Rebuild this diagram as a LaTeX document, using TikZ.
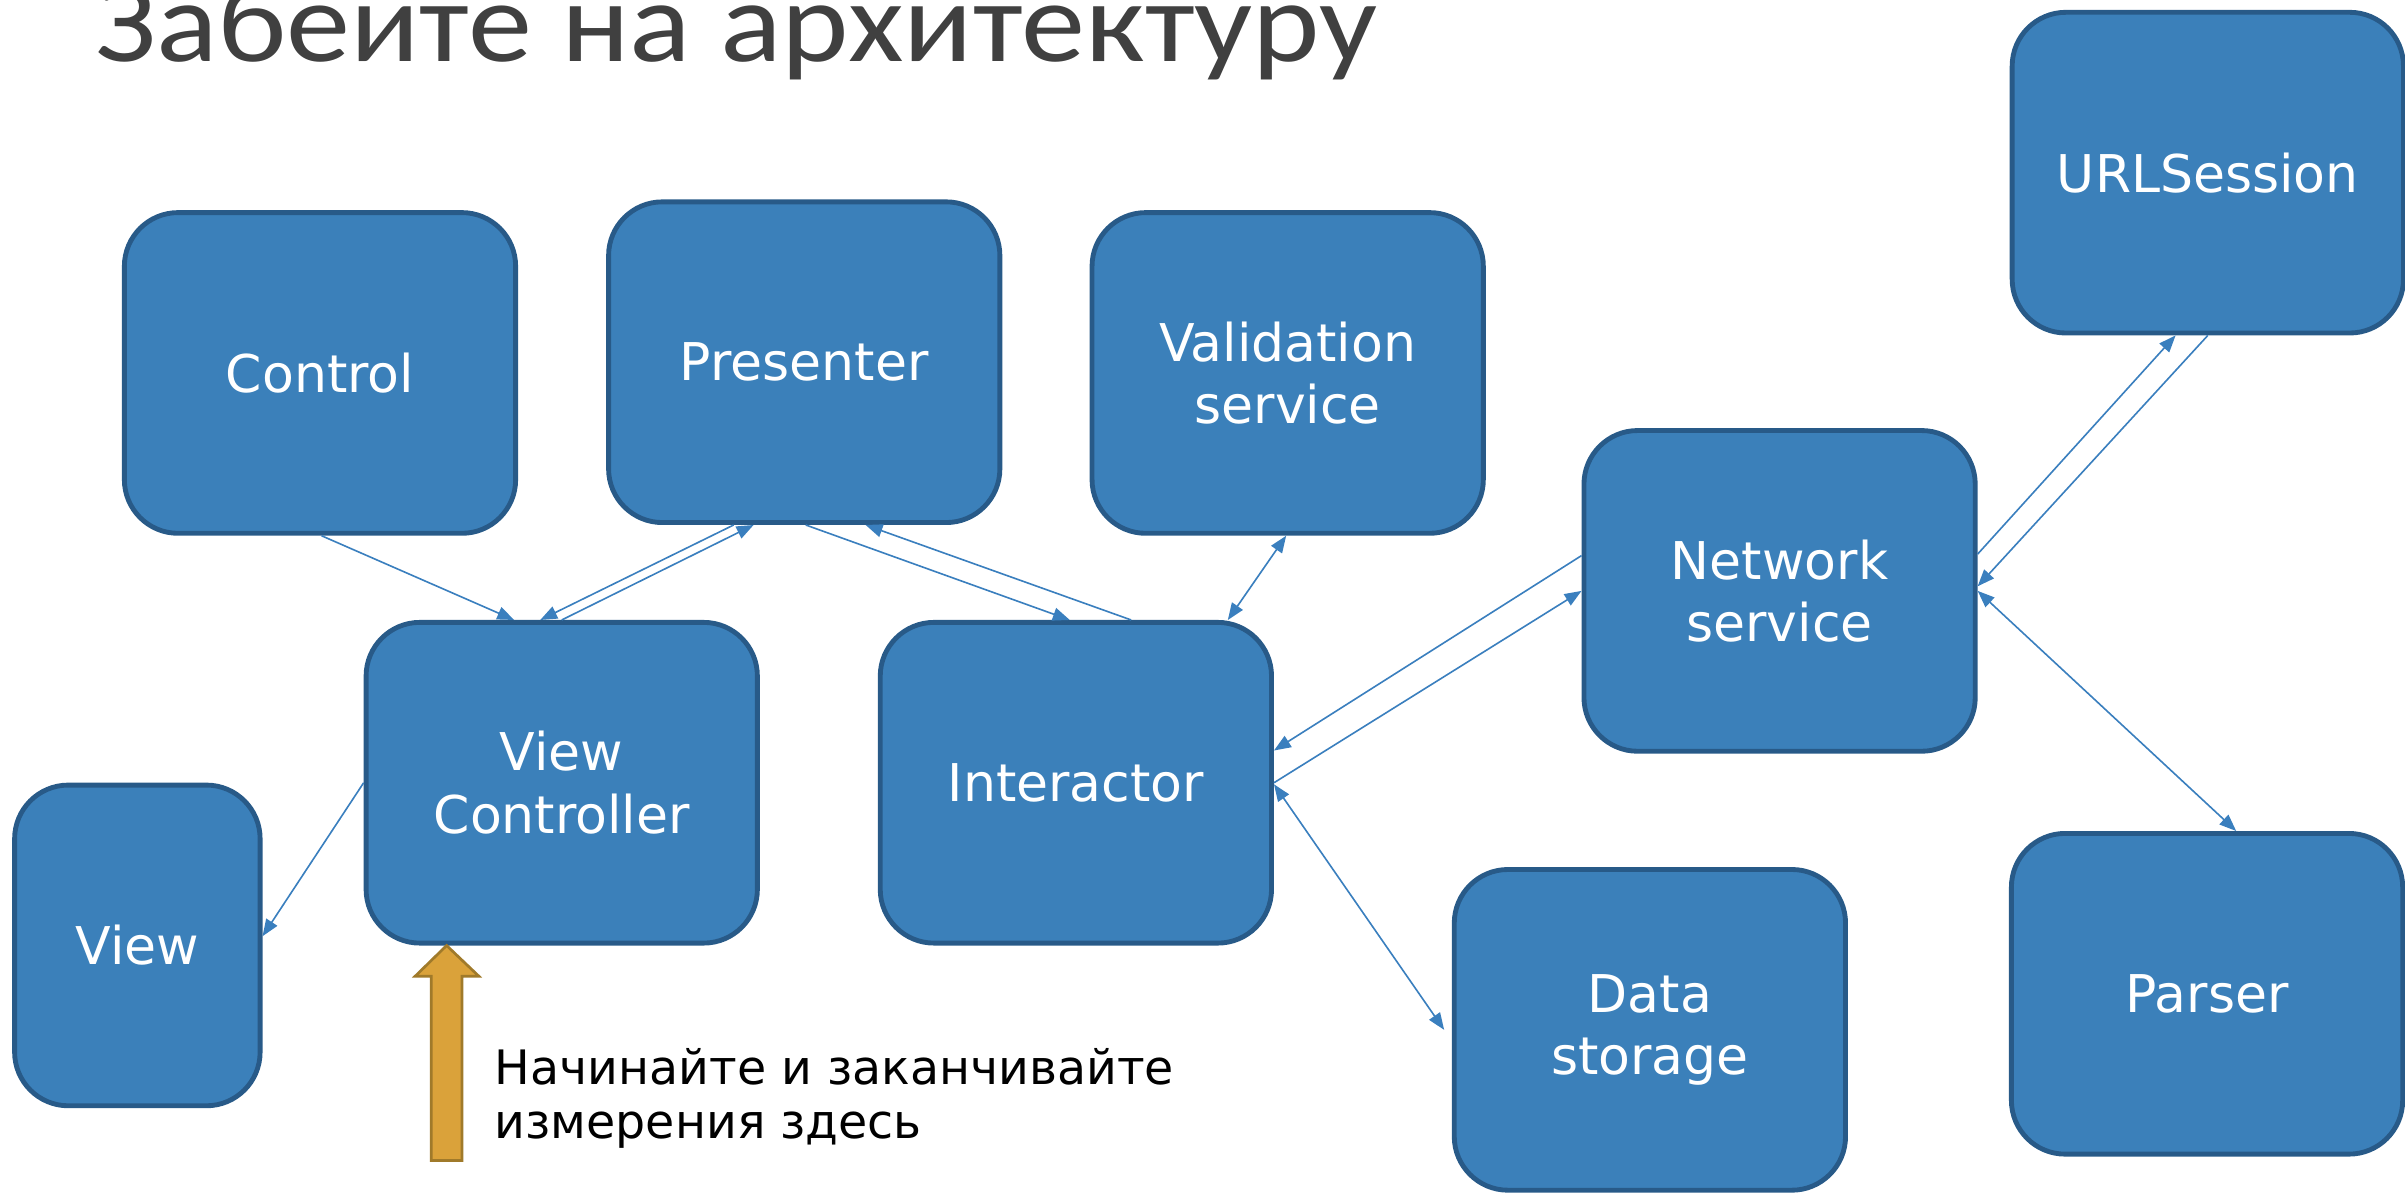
\documentclass[tikz,border=0pt]{standalone}
\usepackage{fontspec}
\setmainfont{DejaVu Sans}
\newfontfamily\titlefont[FakeStretch=1.12]{Carlito}
\usepackage{tikz}
\usetikzlibrary{calc, arrows.meta}

\definecolor{boxfill}{RGB}{59,128,186}
\definecolor{boxline}{RGB}{40,90,136}
\definecolor{linkblue}{RGB}{58,127,190}
\definecolor{pointerfill}{RGB}{218,162,58}
\definecolor{pointerline}{RGB}{160,122,42}
\definecolor{titlegray}{RGB}{64,64,64}

\begin{document}
\begin{tikzpicture}[x=0.02cm, y=-0.02cm,
        block/.style={draw=boxline, fill=boxfill, line width=1.8pt, rounded corners=0.7cm,
            minimum width=5.1cm, minimum height=4.18cm, text=white, align=center,
            font=\fontsize{19.3}{23.2}\selectfont},
        link/.style={linkblue, line width=0.6pt, >={Triangle[length=0.22cm, width=0.17cm]}},
        pointer/.style={draw=pointerline, fill=pointerfill, line width=1pt, line join=miter}]
        \useasboundingbox (0,0) rectangle (1567,777.3);
        \clip (0,0) rectangle (1567,777.3);

        \node[anchor=base west, inner sep=0, text=titlegray, font=\titlefont\fontsize{42.5}{50}\selectfont] (title) at (62,40) {Забейте на архитектуру};

        \node[block] (ctl) at (208.5,243) {Control};
        \node[block] (prs) at (524,236) {Presenter};
        \node[block] (val) at (839,243) {Validation\\service};
        \node[block] (url) at (1438.5,112.5) {URLSession};
        \node[block] (net) at (1159.5,385) {Network\\service};
        \node[block] (vc) at (366,510) {View\\Controller};
        \node[block] (itr) at (701,510) {Interactor};
        \node[block, minimum width=3.2cm] (view) at (89.5,616) {View};
        \node[block] (dat) at (1075,671) {Data\\storage};
        \node[block] (par) at (1438,647.5) {Parser};

        \draw[link, ->] ($(ctl.south)+(1,0)$) -- ($(vc.north)+(-31,0)$);
        \draw[link, ->] ($(prs.south)+(-46,0)$) -- ($(vc.north)+(-14,0)$);
        \draw[link, ->] (vc.north) -- ($(prs.south)+(-33,0)$);
        \draw[link, ->] ($(prs.south)+(1,0)$) -- ($(itr.north)+(-4,0)$);
        \draw[link, ->] ($(itr.north)+(36,0)$) -- ($(prs.south)+(40,0)$);
        \draw[link, <->] ($(val.south)+(-1,0)$) -- ($(itr.north)+(99,0)$);
        \draw[link, ->] ($(net.west)+(0,-23)$) -- ($(itr.east)+(0,-21)$);
        \draw[link, ->] (itr.east) -- (net.west);
        \draw[link, <->] ($(itr.east)+(0,1)$) -- ($(dat.west)+(-5,0)$);
        \draw[link, ->] ($(net.east)+(0,-24)$) -- ($(url.south)+(-21,0)$);
        \draw[link, ->] (url.south) -- ($(net.east)+(0,-3)$);
        \draw[link, <->] (net.east) -- ($(par.north)+(19,0)$);
        \draw[link, ->] (vc.west) -- ($(view.east)+(0,-6)$);

        \coordinate (tip) at ($(vc.south)+(-75,0)$);
        \draw[pointer] (tip) -- ++(21,20) -- ++(-11,0) -- ++(0,120) -- ++(-20,0) -- ++(0,-120) -- ++(-10.5,0) -- cycle;
        \node[anchor=north west, inner sep=0, align=left, font=\fontsize{17.6}{20.1}\selectfont] (note) at (322,682.5) {Начинайте и заканчивайте\\измерения здесь};
    \end{tikzpicture}
\end{document}
